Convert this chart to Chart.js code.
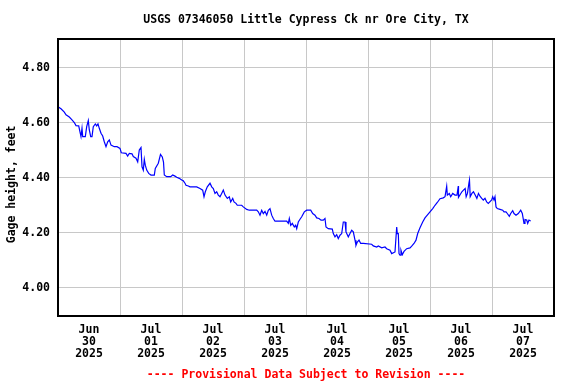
<!DOCTYPE html>
<html>
<head>
<meta charset="utf-8">
<script src="https://cdn.jsdelivr.net/npm/chart.js@4.4.1/dist/chart.umd.min.js"></script>
<style>
  html, body { margin: 0; padding: 0; background: #fff; }
  #wrap { width: 576px; height: 384px; }
</style>
</head>
<body>
<div id="wrap"><canvas id="gageChart" width="576" height="384"></canvas></div>
<script>
const chartTitle = 'USGS 07346050 Little Cypress Ck nr Ore City, TX';
const footNote = '---- Provisional Data Subject to Revision ----';
const yTitle = 'Gage height, feet  ';

// hours since Jun 30 2025 00:00
const hours = [0.27,1.16,2.44,3.10,4.37,5.42,6.31,6.97,8.01,8.90,
  9.29,9.56,10.57,11.11,11.73,12.12,12.66,13.16,13.66,14.44,
  14.98,15.48,15.99,16.65,17.30,17.92,18.58,19.24,19.86,20.52,
  21.79,22.84,24.00,24.50,26.32,26.98,27.60,28.65,29.15,30.19,
  30.85,31.47,32.13,32.52,33.02,33.41,33.79,34.34,35.11,36.00,
  37.28,37.66,38.83,39.68,40.37,40.84,41.15,42.08,43.63,44.40,
  45.29,45.95,46.95,47.88,48.50,49.16,49.55,50.44,51.10,53.69,
  54.97,56.01,56.52,57.02,57.79,58.84,59.50,60.12,60.77,61.43,
  62.05,62.71,63.36,63.99,64.65,65.54,66.31,66.85,67.63,68.13,
  68.90,69.41,71.11,71.73,73.05,74.05,76.92,77.54,78.19,78.85,
  79.47,80.13,80.79,81.41,82.06,82.72,83.34,84.00,88.53,89.15,
  89.54,90.08,90.70,91.47,92.01,92.40,93.02,93.68,94.34,95.34,
  96.27,97.82,98.59,99.48,100.14,101.03,101.81,102.70,103.35,103.74,
  104.63,106.18,106.57,107.23,107.88,108.50,109.16,109.82,110.44,111.10,
  111.48,112.37,113.03,113.69,114.31,114.97,115.35,115.86,116.52,117.17,
  118.18,121.43,122.05,123.37,123.99,125.30,126.58,127.24,128.52,129.17,
  130.45,131.11,131.34,131.73,132.00,132.39,132.77,133.28,133.94,134.98,
  136.26,136.92,137.81,138.58,139.24,140.13,141.17,142.06,142.95,144.00,
  145.05,145.94,146.83,147.87,149.14,149.81,150.46,150.70,151.47,152.01,
  152.79,153.68,154.45,154.95,155.03,156.34,156.95,157.61,158.00,158.50,
  159.05,159.28,159.56,160.21,160.83,161.49,162.14,162.76,163.35,164.01,
  164.63,165.29,165.94,166.56,167.88,168.27,168.77,169.16,169.55,170.05,
  171.10,172.14,172.65,173.42,173.92,174.70,175.24,176.01,176.52,177.29,
  178.18,179.11,179.73,180.39,180.77,181.43,181.82,182.32,182.98];

const gageHeight = [4.657,4.651,4.639,4.629,4.621,4.611,4.601,4.590,4.589,4.550,
  4.580,4.550,4.550,4.586,4.608,4.574,4.550,4.550,4.586,4.596,
  4.589,4.596,4.580,4.562,4.552,4.531,4.513,4.531,4.538,4.519,
  4.513,4.513,4.507,4.491,4.489,4.479,4.489,4.487,4.477,4.471,
  4.458,4.501,4.510,4.440,4.428,4.467,4.446,4.428,4.416,4.410,
  4.410,4.434,4.453,4.485,4.476,4.457,4.410,4.404,4.404,4.410,
  4.406,4.402,4.398,4.392,4.389,4.380,4.373,4.370,4.367,4.367,
  4.361,4.355,4.331,4.349,4.367,4.380,4.367,4.361,4.343,4.349,
  4.337,4.331,4.343,4.355,4.337,4.325,4.331,4.312,4.325,4.312,
  4.307,4.300,4.300,4.294,4.285,4.282,4.282,4.276,4.264,4.282,
  4.270,4.278,4.264,4.282,4.288,4.264,4.252,4.242,4.242,4.234,
  4.252,4.227,4.234,4.221,4.227,4.215,4.239,4.249,4.258,4.276,
  4.282,4.282,4.270,4.264,4.254,4.252,4.246,4.246,4.252,4.221,
  4.215,4.213,4.197,4.185,4.193,4.179,4.191,4.197,4.239,4.239,
  4.203,4.185,4.197,4.209,4.203,4.173,4.154,4.166,4.173,4.161,
  4.161,4.158,4.152,4.148,4.152,4.145,4.148,4.142,4.136,4.124,
  4.130,4.221,4.197,4.197,4.124,4.118,4.136,4.120,4.132,4.142,
  4.145,4.151,4.161,4.173,4.197,4.218,4.239,4.254,4.264,4.276,
  4.288,4.300,4.310,4.324,4.327,4.331,4.369,4.337,4.343,4.331,
  4.343,4.337,4.337,4.370,4.329,4.349,4.355,4.361,4.331,4.343,
  4.380,4.392,4.331,4.343,4.349,4.337,4.325,4.343,4.333,4.325,
  4.319,4.325,4.312,4.307,4.319,4.331,4.319,4.331,4.294,4.288,
  4.285,4.282,4.276,4.276,4.270,4.260,4.270,4.280,4.270,4.264,
  4.270,4.282,4.270,4.234,4.248,4.246,4.234,4.246,4.243];

// x tick labels, one per day (shown at noon)
const dayMonths = ['Jun', 'Jul', 'Jul', 'Jul', 'Jul', 'Jul', 'Jul', 'Jul'];
const dayNums = ['30', '01', '02', '03', '04', '05', '06', '07'];
const dayYears = ['2025', '2025', '2025', '2025', '2025', '2025', '2025', '2025'];
const yTicks = [4.0, 4.2, 4.4, 4.6, 4.8];

const points = hours.map((h, i) => ({ x: h, y: gageHeight[i] }));
const monoFont = { family: '"DejaVu Sans Mono", monospace', size: 11.5, weight: 'bold' };

// black frame round the plot area
const framePlugin = {
    id: 'frame',
    afterDraw(chart){
        const a = chart.chartArea;
        const ctx = chart.ctx;
        ctx.save();
        ctx.strokeStyle = '#000';
        ctx.lineWidth = 2;
        ctx.strokeRect(a.left, a.top, a.right - a.left, a.bottom - a.top);
        ctx.restore();
    }
};

new Chart(document.getElementById('gageChart').getContext('2d'), {
    type: 'line',
    data: {
        datasets: [{
            data: points,
            borderColor: '#0000ff',
            borderWidth: 1.2,
            pointRadius: 0,
            tension: 0,
            fill: false
        }]
    },
    options: {
        responsive: false,
        animation: false,
        devicePixelRatio: 1,
        layout: { padding: { left: 0, right: 22, top: 0, bottom: 0 } },
        plugins: {
            legend: { display: false },
            tooltip: { enabled: false },
            title: {
                display: true,
                text: chartTitle,
                fullSize: false,
                color: '#000',
                font: { ...monoFont, lineHeight: 1.2 },
                padding: { top: 13, bottom: 12.2 }
            },
            subtitle: {
                display: true,
                position: 'bottom',
                text: footNote,
                fullSize: false,
                color: '#ff0000',
                font: { ...monoFont, lineHeight: 1.2 },
                padding: { top: 6, bottom: 2.2 }
            }
        },
        scales: {
            x: {
                type: 'linear',
                min: 0,
                max: 192,
                afterBuildTicks: s => {
                    s.ticks = [];
                    for(let h = 0; h <= 192; h += 12){
                        s.ticks.push({ value: h });
                    }
                },
                afterFit: s => { s.height = 46; },
                border: { display: false },
                grid: {
                    drawTicks: false,
                    lineWidth: 1,
                    color: ctx => (ctx.tick && ctx.tick.value % 24 === 0) ? '#c8c8c8' : 'rgba(0,0,0,0)'
                },
                ticks: {
                    autoSkip: false,
                    maxRotation: 0,
                    padding: 8,
                    color: '#000',
                    font: { ...monoFont, lineHeight: 1.05 },
                    callback: v => {
                        if(v % 24 !== 12) return '';
                        const d = (v - 12) / 24;
                        return [dayMonths[d], dayNums[d], dayYears[d]];
                    }
                }
            },
            y: {
                min: 3.897,
                max: 4.905,
                afterBuildTicks: s => { s.ticks = yTicks.map(v => ({ value: v })); },
                afterFit: s => { s.width = 58; },
                border: { display: false },
                grid: { drawTicks: false, lineWidth: 1, color: '#c8c8c8' },
                ticks: {
                    padding: 8,
                    color: '#000',
                    font: monoFont,
                    callback: v => v.toFixed(2)
                },
                title: {
                    display: true,
                    text: yTitle,
                    color: '#000',
                    font: { ...monoFont, lineHeight: 1.2 },
                    padding: { top: 5, bottom: 0 }
                }
            }
        }
    },
    plugins: [framePlugin]
});
</script>
</body>
</html>
